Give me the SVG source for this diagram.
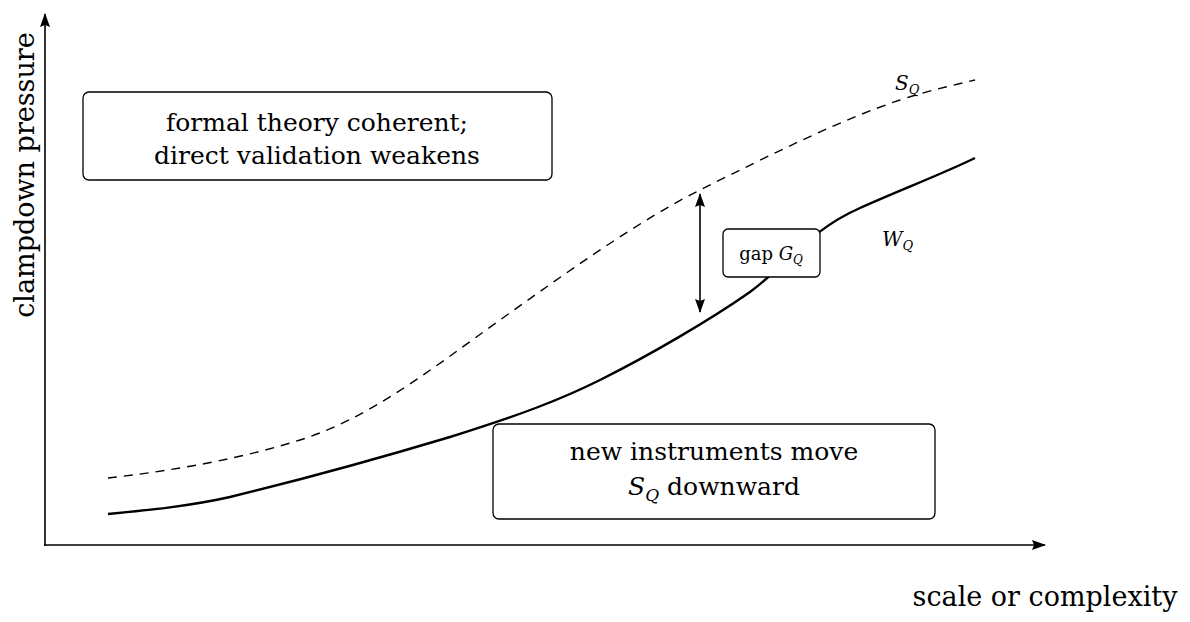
<svg xmlns="http://www.w3.org/2000/svg" width="1190" height="622" viewBox="0 0 1190 622">
<style>
text{font-family:"DejaVu Serif","Liberation Serif",serif;fill:#000}
.box{fill:#fff;stroke:#000;stroke-width:1.3}
.c{stroke:#000;fill:none}
.it{font-style:italic}
</style>
<defs>
<marker id="ah" viewBox="0 0 14 10" refX="13" refY="5" markerWidth="14" markerHeight="10" markerUnits="userSpaceOnUse" orient="auto-start-reverse"><path d="M0,0 L14,5 L0,10 L2,5 z" fill="#000"/></marker>
</defs>
<rect width="1190" height="622" fill="#fff"/>
<g id="connectors">
<path class="c" stroke-width="1.6" d="M45,546 V14" marker-end="url(#ah)"/>
<path class="c" stroke-width="1.6" d="M44,545 H1045" marker-end="url(#ah)"/>
<path class="c" stroke-width="1.4" stroke-dasharray="9,7" d="M108,478 C160,472 230,462 300,440 C370,418 430,370 500,320 C570,270 640,220 700,190 C770,155 840,120 900,100 C930,90 955,85 975,80"/>
<path class="c" stroke-width="2.4" d="M108,514 C150,510 190,506 230,497 C300,480 380,458 450,437 C520,415 560,400 600,380 C650,355 710,320 750,292 C790,262 810,230 860,208 C900,190 940,175 975,158"/>
<path class="c" stroke-width="1.6" d="M700,194 V312" marker-start="url(#ah)" marker-end="url(#ah)"/>
</g>
<g id="n-formal">
<rect class="box" x="83" y="92" width="469" height="88" rx="6"/>
<text x="317" y="131" text-anchor="middle" font-size="25">formal theory coherent;</text>
<text x="317" y="164" text-anchor="middle" font-size="25">direct validation weakens</text>
</g>
<g id="n-instr">
<rect class="box" x="493" y="424" width="442" height="95" rx="6"/>
<text x="714" y="460" text-anchor="middle" font-size="25">new instruments move</text>
<text x="714" y="495" text-anchor="middle" font-size="25"><tspan class="it">S</tspan><tspan class="it" font-size="17" dy="6">Q</tspan><tspan dy="-6"> downward</tspan></text>
</g>
<g id="n-gap">
<rect class="box" x="723" y="229" width="97" height="48" rx="5"/>
<text x="771" y="260" text-anchor="middle" font-size="18">gap <tspan class="it">G</tspan><tspan class="it" font-size="12" dy="4">Q</tspan></text>
</g>
<g id="labels">
<text x="895" y="90" font-size="20" class="it">S<tspan font-size="13" dy="4">Q</tspan></text>
<text x="882" y="246" font-size="20" class="it">W<tspan font-size="13" dy="4">Q</tspan></text>
<text transform="translate(34,175) rotate(-90)" text-anchor="middle" font-size="27">clampdown pressure</text>
<text x="1045" y="606" text-anchor="middle" font-size="27">scale or complexity</text>
</g>
</svg>
